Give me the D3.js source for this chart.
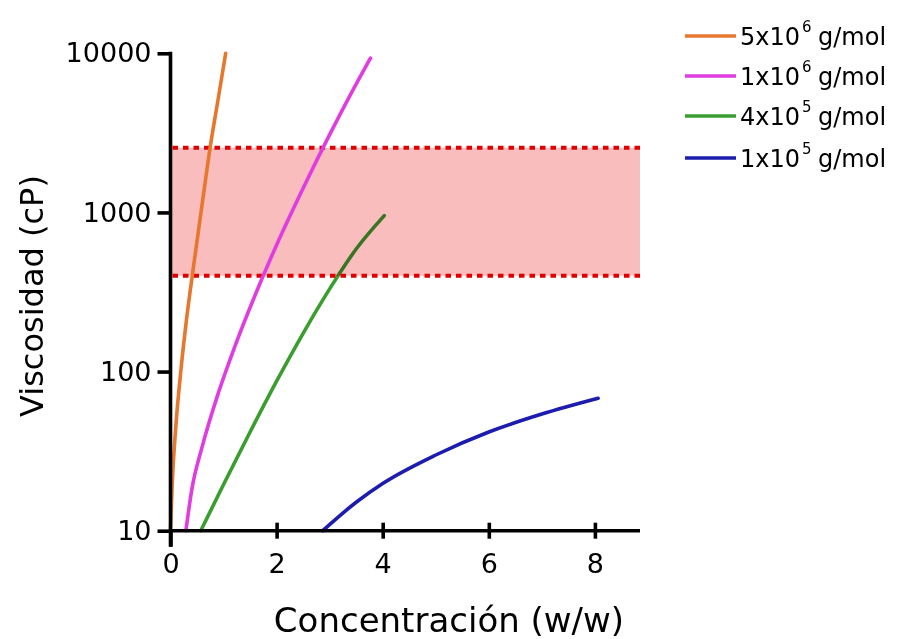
<!DOCTYPE html>
<html>
<head>
<meta charset="utf-8">
<script src="https://cdn.jsdelivr.net/npm/d3@7"></script>
<style>
  html, body { margin: 0; padding: 0; background: #ffffff; }
  svg { display: block; }
  text { font-family: "DejaVu Sans", Verdana, sans-serif; fill: #000; }
</style>
</head>
<body>
<svg id="chart" width="897" height="639"></svg>
<script>
// ---- data ----
const seriesBase = ["5x10", "1x10", "4x10", "1x10"];
const seriesExp = ["6", "6", "5", "5"];
const seriesColors = ["#e8772e", "#e03ce0", "#3a9e2e", "#1c1cae"];

// concentration (w/w) and viscosity (cP)
const conc5e6 = [0, 0.03, 0.1, 0.2, 0.3, 0.45, 0.6, 0.75, 0.9, 1.04];
const visc5e6 = [10, 19, 45, 105, 210, 500, 1150, 2600, 5200, 10000];

const conc1e6 = [0.29, 0.4, 0.6, 0.9, 1.2, 1.6, 2.0, 2.5, 3.0, 3.4, 3.77];
const visc1e6 = [10, 18, 34, 73, 140, 305, 625, 1420, 3080, 5560, 9330];

const conc4e5 = [0.57, 1.0, 1.5, 2.0, 2.5, 3.0, 3.5, 4.03];
const visc4e5 = [10, 19.5, 41.7, 87, 174, 331, 589, 955];

const conc1e5 = [2.87, 3.5, 4.0, 5.0, 6.0, 7.0, 8.06];
const visc1e5 = [10, 15.1, 19.8, 29.9, 41.7, 54.1, 68];

const bandRange = [400, 2550];   // target viscosity window (cP)

const xTicks = [0, 2, 4, 6, 8];
const yTicks = [10, 100, 1000, 10000];
const xDomain = [0, 8.85];
const yDomain = [10, 10000];

const xTitle = "Concentración (w/w)";
const yTitle = "Viscosidad (cP)";

// ---- drawing ----
const svg = d3.select("#chart");
const x = d3.scaleLinear().domain(xDomain).range([170.5, 640]);
const y = d3.scaleLog().domain(yDomain).range([530.7, 53.3]);

const series = [
  {c: conc5e6, v: visc5e6},
  {c: conc1e6, v: visc1e6},
  {c: conc4e5, v: visc4e5},
  {c: conc1e5, v: visc1e5}
].map((s, i) => ({
  pts: s.c.map((c, j) => [c, s.v[j]]),
  color: seriesColors[i], base: seriesBase[i], exp: seriesExp[i]
}));

const line = d3.line()
  .x(d => x(d[0])).y(d => y(d[1]))
  .curve(d3.curveMonotoneX);

const plot = svg.append("g");

function drawSeries(s) {
  plot.append("path")
    .attr("d", line(s.pts))
    .attr("fill", "none")
    .attr("stroke", s.color)
    .attr("stroke-width", 3.6)
    .attr("stroke-linecap", "round");
}

// green line lies beneath the band
drawSeries(series[2]);

plot.append("rect")
  .attr("x", x(0) + 1.5)
  .attr("y", y(bandRange[1]))
  .attr("width", x(xDomain[1]) - x(0) - 1.5)
  .attr("height", y(bandRange[0]) - y(bandRange[1]))
  .attr("fill", "#f9bdbd")
  .style("mix-blend-mode", "multiply");

bandRange.forEach(v => {
  plot.append("line")
    .attr("x1", x(0) + 2).attr("x2", x(xDomain[1]))
    .attr("y1", y(v)).attr("y2", y(v))
    .attr("stroke", "#e00000")
    .attr("stroke-width", 4)
    .attr("stroke-dasharray", "5.5,5");
});

drawSeries(series[0]);
drawSeries(series[1]);
drawSeries(series[3]);

// ---- axes ----
const yAxis = svg.append("g")
  .attr("transform", `translate(${x(0)},0)`)
  .call(d3.axisLeft(y).tickValues(yTicks).tickSize(13).tickPadding(6)
    .tickFormat(d3.format("d")));
yAxis.select(".domain").remove();
yAxis.selectAll(".tick line").attr("stroke", "#000").attr("stroke-width", 3.6);
yAxis.selectAll(".tick text")
  .style("font-size", "27px")
  .attr("font-family", null);

const xAxis = svg.append("g")
  .attr("transform", `translate(0,${y(10)})`)
  .call(d3.axisBottom(x).tickValues(xTicks).tickSize(8).tickPadding(15)
    .tickFormat(d3.format("d")));
xAxis.select(".domain").remove();
xAxis.selectAll(".tick line")
  .attr("stroke", "#000").attr("stroke-width", 3.6)
  .attr("y1", d => d === 0 ? 0 : -8)
  .attr("y2", d => d === 0 ? 16 : 8);
xAxis.selectAll(".tick text")
  .style("font-size", "27px")
  .attr("font-family", null);

// axis lines
svg.append("line")
  .attr("x1", x(0)).attr("x2", x(0))
  .attr("y1", y(10000) - 1.5).attr("y2", y(10) + 16)
  .attr("stroke", "#000").attr("stroke-width", 3.6);
svg.append("line")
  .attr("x1", x(0)).attr("x2", x(xDomain[1]))
  .attr("y1", y(10)).attr("y2", y(10))
  .attr("stroke", "#000").attr("stroke-width", 3.6);

// titles
svg.append("text")
  .attr("x", 449).attr("y", 632)
  .attr("text-anchor", "middle")
  .style("font-size", "34px")
  .text(xTitle);

svg.append("text")
  .attr("transform", "translate(43,296) rotate(-90)")
  .attr("text-anchor", "middle")
  .style("font-size", "32px")
  .text(yTitle);

// ---- legend ----
const legendRows = [36, 76, 116, 158];
const legend = svg.append("g");
series.forEach((s, i) => {
  const ly = legendRows[i];
  legend.append("line")
    .attr("x1", 685).attr("x2", 736)
    .attr("y1", ly).attr("y2", ly)
    .attr("stroke", s.color).attr("stroke-width", 3.6);
  const t = legend.append("text")
    .attr("y", ly + 8.5)
    .style("font-size", "24px");
  t.append("tspan").attr("x", 740).text(s.base);
  t.append("tspan").attr("x", 802).attr("dy", -13)
    .style("font-size", "15px").text(s.exp);
  t.append("tspan").attr("x", 818).attr("dy", 13).text("g/mol");
});
</script>
</body>
</html>
